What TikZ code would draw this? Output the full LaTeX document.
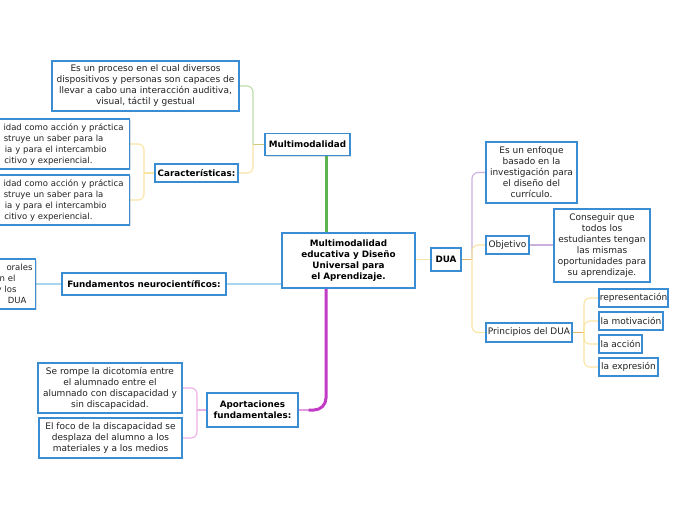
\documentclass[tikz,border=0pt]{standalone}
\usepackage{fontspec}
\setmainfont{DejaVu Sans}
\usetikzlibrary{shadows,backgrounds}
\definecolor{boxblue}{HTML}{3A8DD3}
\definecolor{txt}{HTML}{222222}
\definecolor{cgreen}{HTML}{5DB44E}
\definecolor{cmag}{HTML}{C23BC4}
\definecolor{cmagl}{HTML}{E49AE2}
\definecolor{cblue}{HTML}{A9D5F2}
\definecolor{cyel}{HTML}{F9E4A0}
\definecolor{cviol}{HTML}{C9B0DE}
\definecolor{cgreenl}{HTML}{BCDDA8}
\definecolor{cpink}{HTML}{EAB0E6}
\definecolor{corange}{HTML}{E2B868}
\definecolor{colive}{HTML}{CFC77A}
\newcommand\fsreg{\fontsize{9}{11}\selectfont}
\newcommand\fssmall{\fontsize{8.5}{11}\selectfont}
\newcommand\fsbold{\fontsize{8.8}{11}\selectfont\bfseries}
\begin{document}
\begin{tikzpicture}[x=1pt,y=-1pt,
  box/.style={draw=boxblue, line width=1.1pt, fill=white, inner sep=0pt, align=center, text=txt, font=\fsreg,
    drop shadow={shadow xshift=1.2pt, shadow yshift=-1.2pt, opacity=0.25}},
  hbox/.style={box, font=\fsbold, text=black},
  cutbox/.style={box, font=\fssmall, anchor=east, align=right, minimum height=50pt},
  link/.style={line width=1.1pt, rounded corners=6pt},
]
\useasboundingbox (0,0) rectangle (696,520);

\node[box, minimum width=187pt, minimum height=50pt] (mmdesc) at (145.5,86) {Es un proceso en el cual diversos\\dispositivos y personas son capaces de\\llevar a cabo una interacción auditiva,\\visual, táctil y gestual};
\node[hbox, minimum width=85pt, minimum height=22pt] (mm) at (307.5,144.5) {Multimodalidad};
\node[hbox, minimum width=83pt, minimum height=18pt] (car) at (196.5,173) {Características:};
\node[cutbox, text width=185pt, inner xsep=6pt] (c1) at (130,144) {idad como acción y práctica\\struye un saber para la\kern20pt\\ia y para el intercambio\kern17pt\\citivo y experiencial.\kern31pt};
\node[cutbox, text width=185pt, inner xsep=6pt] (c2) at (130,200) {idad como acción y práctica\\struye un saber para la\kern20pt\\ia y para el intercambio\kern17pt\\citivo y experiencial.\kern31pt};
\node[cutbox, text width=60pt, inner xsep=3pt] (fl) at (36,284) {orales\\n el\kern17pt\\y los\kern16pt\\DUA\kern6pt};
\node[hbox, minimum width=164pt, minimum height=22pt] (fund) at (144,284) {Fundamentos neurocientíficos:};
\node[hbox, minimum width=133pt, minimum height=55pt] (central) at (348.5,260.5) {Multimodalidad\\educativa y Diseño\\Universal para\\el Aprendizaje.};
\node[hbox, minimum width=30pt, minimum height=23pt] (dua) at (446,259.5) {DUA};
\node[box, minimum width=91pt, minimum height=61pt] (duadesc) at (531.5,172.5) {Es un enfoque\\basado en la\\investigación para\\el diseño del\\currículo.};
\node[box, minimum width=43pt, minimum height=18pt] (obj) at (507.5,245) {Objetivo};
\node[box, minimum width=96pt, minimum height=73pt] (cons) at (602,245.5) {Conseguir que\\todos los\\estudiantes tengan\\las mismas\\oportunidades para\\su aprendizaje.};
\node[box, minimum width=86pt, minimum height=19pt] (princ) at (529,332.5) {Principios del DUA};
\node[box, minimum width=69pt, minimum height=18pt] (rep) at (633.5,298) {representación};
\node[box, minimum width=64pt, minimum height=18pt] (mot) at (631,321) {la motivación};
\node[box, minimum width=43pt, minimum height=18pt] (acc) at (620.5,344) {la acción};
\node[box, minimum width=59pt, minimum height=18pt] (exp) at (628.5,367) {la expresión};
\node[hbox, minimum width=91pt, minimum height=34pt] (aport) at (252.5,410) {Aportaciones\\fundamentales:};
\node[box, minimum width=144pt, minimum height=50pt] (rompe) at (110,388) {Se rompe la dicotomía entre\\el alumnado entre el\\alumnado con discapacidad y\\sin discapacidad.};
\node[box, minimum width=143pt, minimum height=40pt] (foco) at (110.5,438) {El foco de la discapacidad se\\desplaza del alumno a los\\materiales y a los medios};

\begin{scope}[on background layer]
\coordinate (cx) at (326,0);
\draw[cgreen, line width=3pt] (central.north -| cx) -- (mm.south -| cx);
\draw[cmagl, line width=2pt] (aport.east) -- ++(12,0);
\draw[cmag, line width=3pt, rounded corners=12pt] (central.south -| cx) |- ([xshift=10pt]aport.east);
\draw[cblue, line width=1.2pt] (central.west |- fund.east) -- (fund.east);
\draw[cblue, line width=1.2pt] (fund.west) -- (fl.east);
\draw[cyel, link] (central.east |- dua.west) -- (dua.west);
\coordinate (dj) at (472,259.5);
\draw[corange, line width=1.5pt] (dua.east) -- (dj);
\draw[cviol, link] (dj) |- (duadesc.west);
\draw[cyel, link] (dj) |- (obj.west);
\draw[cyel, link] (dj) |- (princ.west);
\draw[cviol, link] (obj.east) -- (obj.east -| cons.west);
\coordinate (pj) at (584,332.5);
\draw[corange, line width=1.5pt] (princ.east) -- (pj);
\draw[cyel, link] (pj) |- (rep.west);
\draw[cyel, link] (pj) |- (mot.west);
\draw[cyel, link] (pj) |- (acc.west);
\draw[cyel, link] (pj) |- (exp.west);
\coordinate (mj) at (253,144.5);
\draw[colive, line width=1.5pt] (mm.west) -- (mj);
\draw[cgreenl, link] (mj) |- (mmdesc.east);
\draw[cyel, link] (mj) |- (car.east);
\coordinate (cj) at (144,173);
\draw[cyel, link] (car.west) -- (cj);
\draw[cyel, link] (cj) |- (c1.east);
\draw[cyel, link] (cj) |- (c2.east);
\coordinate (aj) at (197,410);
\draw[cpink, link] (aport.west) -- (aj);
\draw[cpink, link] (aj) |- (rompe.east);
\draw[cpink, link] (aj) |- (foco.east);
\end{scope}
\end{tikzpicture}
\end{document}
